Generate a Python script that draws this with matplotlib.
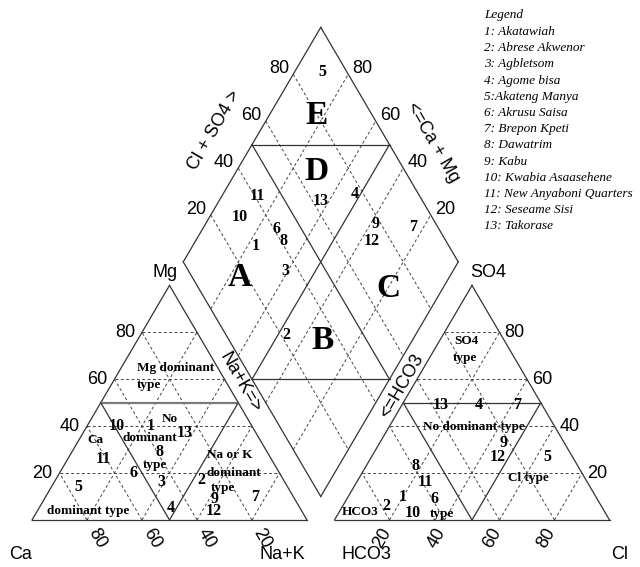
import numpy as np
import matplotlib.pyplot as plt

# Piper diagram, samples labelled by number

S3 = np.sqrt(3) / 2   # height of unit triangle
GAP = 0.1             # gap between the two triangles

sample_ids = [1, 2, 3, 4, 5, 6, 7, 8, 9, 10, 11, 12, 13]
site_names = ["Akatawiah", "Abrese Akwenor", "Agbletsom", "Agome bisa", "Akateng Manya",
              "Akrusu Saisa", "Brepon Kpeti", "Dawatrim", "Kabu", "Kwabia Asaasehene",
              "New Anyaboni Quarters", "Seseame Sisi", "Takorase"]

# cations, % meq
ca = [37, 30, 45, 47, 76, 53, 14, 39, 29, 49, 61, 32, 26]
mg = [40, 17, 16, 5, 14, 20, 10, 29, 9, 40, 26, 4, 37]
nak = [23, 53, 39, 48, 10, 27, 76, 32, 62, 11, 13, 64, 37]
# anions, % meq
hco3 = [70, 78, 65, 23, 9, 59, 9, 59, 22, 70, 59, 27, 37]
so4 = [10, 6, 18, 49, 27, 9, 49, 23, 33, 3, 16, 27, 49]
cl = [20, 16, 17, 28, 64, 32, 42, 18, 45, 27, 25, 46, 14]

anion_hidden = [3]    # label 3 is not visible in the anion triangle of the original

grid_vals = [0.2, 0.4, 0.6, 0.8]


def cat_xy(na, m):
    return na + m / 2, m * S3


def an_xy(c, s):
    return 1 + GAP + c + s / 2, s * S3


def dia_xy(na, an):
    bx, by = 1 + GAP / 2, GAP * S3
    return bx - 0.5 * (1 - na) + 0.5 * an, by + S3 * ((1 - na) + an)


def seg(ax, p, q, dashed=False, **kw):
    if dashed:
        ax.plot([p[0], q[0]], [p[1], q[1]], color='#444444', lw=0.7, ls=(0, (3, 2.5)))
    else:
        style = dict(color='#333333', lw=0.9)
        style.update(kw)
        ax.plot([p[0], q[0]], [p[1], q[1]], **style)


fig = plt.figure(figsize=(6.4, 5.67), dpi=100)
ax = fig.add_axes([0, 0, 1, 1])
ax.set_xlim(-32 / 275, 608 / 275)
ax.set_ylim(-47 / 270.9, 520 / 270.9)
ax.axis('off')

SANS = 'Liberation Sans'
SERIF = 'Liberation Serif'

# dashed grids
for v in grid_vals:
    seg(ax, cat_xy(0, v), cat_xy(1 - v, v), True)
    seg(ax, cat_xy(v, 0), cat_xy(v, 1 - v), True)
    seg(ax, cat_xy(1 - v, 0), cat_xy(0, 1 - v), True)
    seg(ax, an_xy(0, v), an_xy(1 - v, v), True)
    seg(ax, an_xy(v, 0), an_xy(v, 1 - v), True)
    seg(ax, an_xy(1 - v, 0), an_xy(0, 1 - v), True)
    seg(ax, dia_xy(v, 0), dia_xy(v, 1), True)
    seg(ax, dia_xy(0, v), dia_xy(1, v), True)

# outlines
for f in (cat_xy, an_xy):
    pts = [f(0, 0), f(1, 0), f(0, 1), f(0, 0)]
    for p, q in zip(pts[:-1], pts[1:]):
        seg(ax, p, q)
dpts = [dia_xy(1, 0), dia_xy(0, 0), dia_xy(0, 1), dia_xy(1, 1), dia_xy(1, 0)]
for p, q in zip(dpts[:-1], dpts[1:]):
    seg(ax, p, q)

# facies boundaries
seg(ax, cat_xy(0, 0.5), cat_xy(0.5, 0.5), color='#7a7a7a', lw=1.6)
seg(ax, cat_xy(0.5, 0), cat_xy(0, 0.5))
seg(ax, cat_xy(0.5, 0), cat_xy(0.5, 0.5))
seg(ax, an_xy(0, 0.5), an_xy(0.5, 0.5))
seg(ax, an_xy(0.5, 0), an_xy(0, 0.5))
seg(ax, an_xy(0.5, 0), an_xy(0.5, 0.5))
seg(ax, dia_xy(0, 0.5), dia_xy(1, 0.5))
seg(ax, dia_xy(0.5, 0), dia_xy(0.5, 1))
seg(ax, dia_xy(0, 0.5), dia_xy(0.5, 1))
seg(ax, dia_xy(0.5, 0), dia_xy(1, 0.5))

# tick labels
tk = dict(fontsize=13, family=SANS, textcoords='offset points')
for v in grid_vals:
    lab = str(int(round(v * 100)))
    ax.annotate(lab, cat_xy(0, v), xytext=(-5, 0), ha='right', va='center', **tk)
    ax.annotate(lab, cat_xy(1 - v, 0), xytext=(7, -13), ha='center', va='center', rotation=-60, **tk)
    ax.annotate(lab, an_xy(v, 0), xytext=(-5.5, -13), ha='center', va='center', rotation=60, **tk)
    ax.annotate(lab, an_xy(1 - v, v), xytext=(3.5, 0), ha='left', va='center', **tk)
    ax.annotate(lab, dia_xy(0, v), xytext=(-3, 4), ha='right', va='center', **tk)
    ax.annotate(lab, dia_xy(1 - v, 1), xytext=(3, 4), ha='left', va='center', **tk)

# axis names
nm = dict(fontsize=13, family=SANS, ha='center', va='center')
ax.text(-0.04, -0.129, "Ca", **nm)
ax.text(0.909, -0.129, "Na+K", **nm)
ax.text(1.215, -0.129, "HCO3", **nm)
ax.text(2.138, -0.129, "Cl", **nm)
ax.text(0.484, 0.915, "Mg", **nm)
ax.text(1.658, 0.915, "SO4", **nm)
ax.text(0.662, 1.44, "Cl + SO4 >", rotation=60, **nm)
ax.text(1.458, 1.395, "<=Ca + Mg", rotation=-60, **nm)
ax.text(0.756, 0.506, "Na+K=>", rotation=-60, **nm)
ax.text(1.345, 0.495, "<=HCO3", rotation=60, **nm)

# diamond fields
big = dict(fontsize=24, family=SERIF, weight='bold', ha='center', va='center')
ax.text(1.036, 1.495, "E", **big)
ax.text(1.036, 1.285, "D", **big)
ax.text(0.756, 0.897, "A", **big)
ax.text(1.295, 0.856, "C", **big)
ax.text(1.058, 0.661, "B", **big)

# water type notes
ft = dict(fontsize=9.5, family=SERIF, weight='bold', va='center')
ax.text(0.382, 0.561, "Mg dominant", ha='left', **ft)
ax.text(0.382, 0.498, "type", ha='left', **ft)
ax.text(0.502, 0.373, "No", ha='center', **ft)
ax.text(0.429, 0.303, "dominant", ha='center', **ft)
ax.text(0.447, 0.203, "type", ha='center', **ft)
ax.text(0.229, 0.295, "Ca", ha='center', **ft)
ax.text(0.204, 0.033, "dominant type", ha='center', **ft)
ax.text(0.72, 0.24, "Na or K", ha='center', **ft)
ax.text(0.735, 0.173, "dominant", ha='center', **ft)
ax.text(0.695, 0.118, "type", ha='center', **ft)
ax.text(1.578, 0.661, "SO4", ha='center', **ft)
ax.text(1.575, 0.598, "type", ha='center', **ft)
ax.text(1.607, 0.343, "No dominant type", ha='center', **ft)
ax.text(1.807, 0.155, "Cl type", ha='center', **ft)
ax.text(1.193, 0.030, "HCO3", ha='center', **ft)
ax.text(1.491, 0.022, "type", ha='center', **ft)

# samples
st = dict(fontsize=11.5, family=SERIF, weight='bold', ha='center', va='center')
for i, sid in enumerate(sample_ids):
    tot_c = ca[i] + mg[i] + nak[i]
    tot_a = hco3[i] + so4[i] + cl[i]
    na_f, mg_f = nak[i] / tot_c, mg[i] / tot_c
    cl_f, so4_f = cl[i] / tot_a, so4[i] / tot_a
    ax.text(*cat_xy(na_f, mg_f), str(sid), **st)
    if sid not in anion_hidden:
        ax.text(*an_xy(cl_f, so4_f), str(sid), **st)
    ax.text(*dia_xy(na_f, cl_f + so4_f), str(sid), **st)

# legend
lg = dict(fontsize=9.5, family=SERIF, style='italic', ha='left', va='center')
fig.text(484 / 640, 1 - 15 / 567, "Legend", **lg)
for i, (sid, name) in enumerate(zip(sample_ids, site_names)):
    sep = ":" if sid == 5 else ": "
    fig.text(484 / 640, 1 - (32 + 16.2 * i) / 567, f"{sid}{sep}{name}", **lg)

fig.savefig("out.png", dpi=100)
